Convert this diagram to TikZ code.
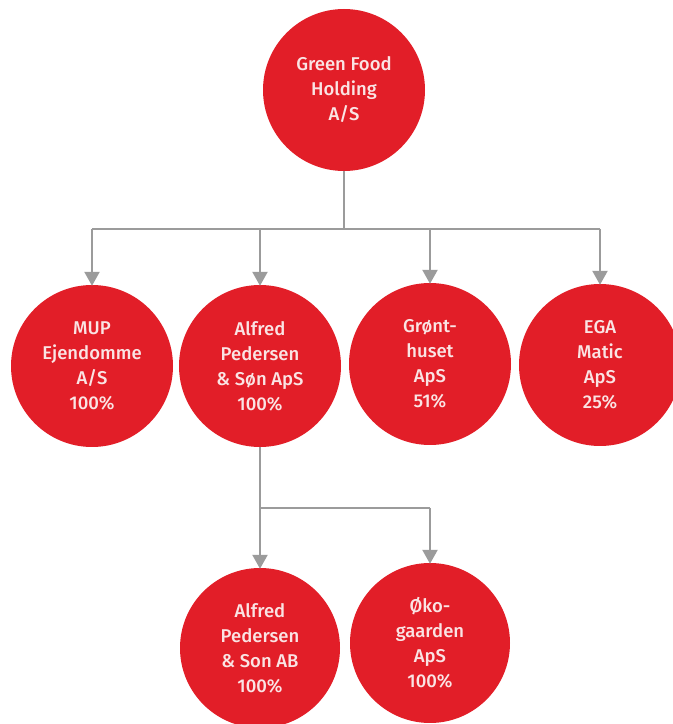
\documentclass[tikz,border=0pt]{standalone}
\usepackage{fontspec}
\setmainfont{Fira Sans}[UprightFont=* Medium]
\usetikzlibrary{arrows.meta}
\definecolor{cred}{RGB}{226,30,40}
\definecolor{ctext}{RGB}{250,228,228}
\definecolor{cline}{RGB}{155,155,155}
\tikzset{
  org/.style={circle, fill=cred, inner sep=0pt, minimum size=#1, text=ctext,
    align=center, font=\fontsize{18.5}{25}\selectfont},
  org/.default=162pt,
  conn/.style={draw=cline, line width=2.4pt},
  arr/.style={conn, -{Triangle[width=15pt,length=14pt]}, shorten >=-1pt}
}
\begin{document}
\begin{tikzpicture}[x=1pt,y=1pt]
\useasboundingbox (0,0) rectangle (673,724);
\node[org] (top) at (344,634) {Green Food\\Holding\\A/S};
\node[org] (mup) at (92,358) {MUP\\Ejendomme\\A/S\\100\%};
\node[org] (alf) at (260,358) {Alfred\\Pedersen\\\& Søn ApS\\100\%};
\node[org] (gro) at (430,360) {Grønt-\\huset\\ApS\\51\%};
\node[org] (ega) at (600,359) {EGA\\Matic\\ApS\\25\%};
\node[org=160pt] (ab) at (260,76) {Alfred\\Pedersen\\\& Son AB\\100\%};
\node[org=160pt] (oko) at (430,81) {Øko-\\gaarden\\ApS\\100\%};
\coordinate (b1) at (344,495);
\coordinate (b2) at (260,216);
\draw[conn] (top.south) -- (b1);
\draw[conn] (mup.north |- b1) -- (ega.north |- b1);
\foreach \n in {mup,alf,gro,ega} \draw[arr] (\n.north |- b1) -- (\n.north);
\draw[conn] (alf.south) -- (b2) -- (oko.north |- b2);
\draw[arr] (b2) -- (ab.north);
\draw[arr] (oko.north |- b2) -- (oko.north);
\end{tikzpicture}
\end{document}
